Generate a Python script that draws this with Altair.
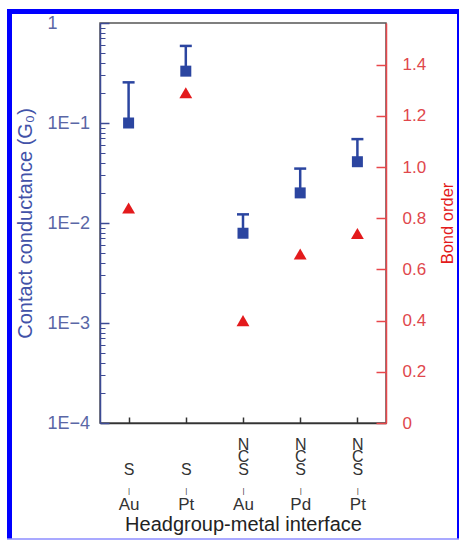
import json
import altair as alt
import pandas as pd

# ---- data ----
interfaces = ["S-Au", "S-Pt", "NCS-Au", "NCS-Pd", "NCS-Pt"]
headgroups = ["S", "S", "NCS", "NCS", "NCS"]
metals = ["Au", "Pt", "Au", "Pd", "Pt"]
conductance = [0.10, 0.33, 0.0079, 0.020, 0.041]          # G0
conductance_upper = [0.255, 0.59, 0.0122, 0.035, 0.069]   # top of error bar
bond_order = [0.84, 1.29, 0.40, 0.66, 0.74]

log_major = [1e-4, 1e-3, 1e-2, 1e-1, 1]
log_minor = [k * 10.0 ** e for e in range(-4, 0) for k in range(2, 10)]
bond_ticks = [0, 0.2, 0.4, 0.6, 0.8, 1.0, 1.2, 1.4]

df = pd.DataFrame({
    "iface": interfaces, "hg": headgroups, "metal": metals,
    "g": conductance, "ghi": conductance_upper, "bond": bond_order,
})
frame_df = pd.DataFrame({"k": [0]})

FONT = "Liberation Sans"
BLUE_AX = "#3c4a94"
BLUE_LAB = "#5a67a6"
BLUE_TITLE = "#4252a8"
BLUE_MARK = "#2b45a0"
RED = "#e31a1c"
RED_AX = "#e8474b"
RED_LAB = "#e0474c"

# headgroup written vertically: the bonding atom (last letter) on its own axis row,
# the remaining letters stacked above it
upper_lines = {i: (list(h[:-1]) if len(h) > 1 else "") for i, h in zip(interfaces, headgroups)}
bond_atom = {i: h[-1] for i, h in zip(interfaces, headgroups)}
metal_map = dict(zip(interfaces, metals))
upper_expr = "(" + json.dumps(upper_lines) + ")[datum.label]"
atom_expr = "(" + json.dumps(bond_atom) + ")[datum.label]"
metal_expr = "(" + json.dumps(metal_map) + ")[datum.label]"

xscale = alt.Scale(type="point", padding=0.5)
ylog = alt.Scale(type="log", domain=[1e-4, 1], nice=False)
ybond = alt.Scale(domain=[0, 1.5625], nice=False, zero=False)

LAB_FS = 16


def X(axis=None):
    return alt.X("iface:N", sort=interfaces, scale=xscale, axis=axis)


def label_axis(expr, pad, size=LAB_FS, **kw):
    return alt.Axis(orient="bottom", labelExpr=expr, ticks=False, domain=False,
                    labelAngle=0, labelAlign="center", labelPadding=pad,
                    labelFontSize=size, labelColor="#333333", labelBaseline="top",
                    labelOverlap=False, **kw)


base = alt.Chart(df)

# error bars (stem) + main left axis + bottom domain
rules = base.mark_rule(color=BLUE_MARK, strokeWidth=2.5).encode(
    x=X(alt.Axis(orient="bottom", labels=False, ticks=False, domain=True,
                 domainColor="#333333", domainWidth=1.5, title=None)),
    y=alt.Y("g:Q", scale=ylog, axis=alt.Axis(
        orient="left", title="Contact conductance (G₀)", values=log_major,
        labelExpr="datum.value >= 1 ? '1' : '1E\u2212' + round(-log(datum.value)/LN10)",
        labelAlign="left", labelPadding=53, ticks=False,
        domainColor=BLUE_AX, domainWidth=1.5, labelColor=BLUE_LAB, labelFontSize=18,
        titleColor=BLUE_TITLE, titleFontSize=20, titlePadding=12)),
    y2="ghi:Q",
)

# error bar caps + metal labels + x title
caps = base.mark_tick(color=BLUE_MARK, thickness=2.5, size=12, opacity=1).encode(
    x=X(label_axis(metal_expr, 73, size=17,
                   title="Headgroup-metal interface", titleFontSize=20,
                   titleColor="#222222", titlePadding=2)),
    y=alt.Y("ghi:Q", scale=ylog, axis=None),
)

squares = base.mark_square(size=121, color=BLUE_MARK, opacity=1).encode(
    x=X(label_axis(atom_expr, 38, title=None)),
    y=alt.Y("g:Q", scale=ylog, axis=None),
)

triangles = base.mark_point(shape="triangle-up", filled=True, size=165, color=RED, opacity=1).encode(
    x=X(),
    y=alt.Y("bond:Q", scale=ybond, axis=alt.Axis(
        orient="right", title="Bond order", values=bond_ticks,
        labelExpr="datum.value == 0 ? '0' : format(datum.value, '.1f')",
        ticks=False, labelPadding=16, domainColor=RED_AX, domainWidth=1.5,
        labelColor=RED_LAB, labelFontSize=17, titleColor=RED, titleFontSize=16.5,
        titleAngle=270, titleBaseline="top", titlePadding=14)),
)

# inward ticks: left majors + bottom category ticks
tick_major = base.mark_point(opacity=0).encode(
    x=X(alt.Axis(orient="bottom", offset=-6, tickSize=6, tickColor="#333333", tickWidth=1.5,
                 labels=False, domain=False, title=None)),
    y=alt.Y("g:Q", scale=ylog, axis=alt.Axis(
        orient="left", offset=-9, tickSize=9, values=log_major, tickColor=BLUE_AX,
        tickWidth=1.5, labels=False, domain=False, title=None)),
)

# inward ticks: left minors + upper headgroup letters
tick_minor = base.mark_point(opacity=0).encode(
    x=X(label_axis(upper_expr, 13, labelLineHeight=12.7, title=None)),
    y=alt.Y("g:Q", scale=ylog, axis=alt.Axis(
        orient="left", offset=-5, tickSize=5, values=log_minor, tickColor=BLUE_AX,
        tickWidth=1, labels=False, domain=False, title=None)),
)

# inward ticks: right axis + connector bars
tick_right = base.mark_point(opacity=0).encode(
    x=X(label_axis("'|'", 63, size=8, title=None)),
    y=alt.Y("bond:Q", scale=ybond, axis=alt.Axis(
        orient="right", offset=-10, tickSize=10, values=bond_ticks, tickColor=RED_AX,
        tickWidth=1.5, labels=False, domain=False, title=None)),
)

# decorative blue frame around the figure
fbase = alt.Chart(frame_df)
frame_left = fbase.mark_rule(color="#0000ff", strokeWidth=5).encode(
    x=alt.value(-90.5), x2=alt.value(-90.5), y=alt.value(-14), y2=alt.value(516))
frame_top = fbase.mark_rule(color="#0000ff", strokeWidth=5).encode(
    x=alt.value(-93), x2=alt.value(359), y=alt.value(-11.5), y2=alt.value(-11.5))
frame_right = fbase.mark_rule(color="#0000ff", strokeWidth=2).encode(
    x=alt.value(358), x2=alt.value(358), y=alt.value(-14), y2=alt.value(516))
frame_bottom = fbase.mark_rule(color="#8c8cff", strokeWidth=1.5).encode(
    x=alt.value(-93), x2=alt.value(359), y=alt.value(516), y2=alt.value(516))

chart = alt.layer(
    tick_major, tick_minor, tick_right,
    rules, caps, squares, triangles,
    frame_left, frame_top, frame_right, frame_bottom,
).resolve_scale(
    y="independent"
).resolve_axis(
    x="independent", y="independent"
).properties(
    width=286, height=400,
    padding={"left": 100, "top": 23, "right": 73, "bottom": 117},
    autosize=alt.AutoSizeParams(type="none"),
).configure_view(
    stroke="#555555", strokeWidth=1.5
).configure_axis(
    labelFont=FONT, titleFont=FONT, titleFontWeight="normal", grid=False
)

chart.save("out.html", embed_options={"renderer": "svg", "actions": False})
